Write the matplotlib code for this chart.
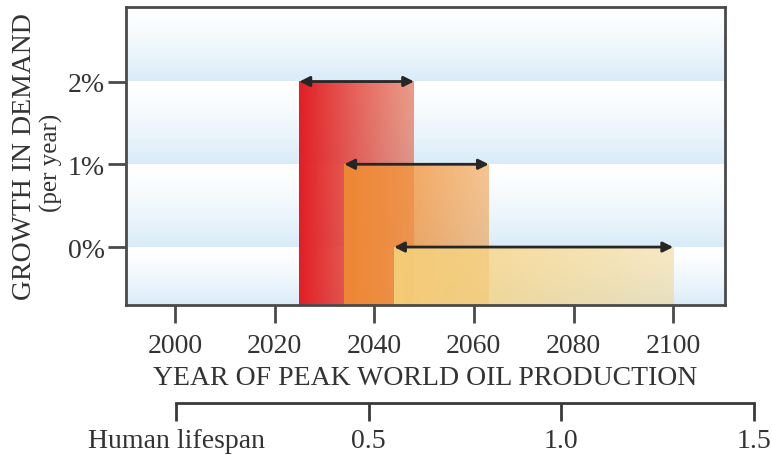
import numpy as np
import matplotlib
matplotlib.use("Agg")
import matplotlib.pyplot as plt

plt.rcParams['font.family'] = ['Liberation Serif', 'DejaVu Serif']

# peak-year ranges for each demand growth scenario
growth = [2, 1, 0]
start_year = [2025, 2034, 2044]
end_year = [2048, 2063, 2100]
# left / right colours of each bar gradient (rgb, alpha)
left_colors = [(0.886, 0.118, 0.141, 1.0), (0.937, 0.541, 0.204, 0.97), (0.965, 0.816, 0.478, 0.92)]
right_colors = [(0.88, 0.43, 0.33, 0.68), (0.94, 0.63, 0.31, 0.62), (0.94, 0.84, 0.58, 0.55)]

year_ticks = [2000, 2020, 2040, 2060, 2080, 2100]
growth_ticks = [0, 1, 2]
growth_labels = ['0%', '1%', '2%']

lifespan_ticks = [0, 0.5, 1.0, 1.5]
lifespan_labels = ['Human lifespan', '0.5', '1.0', '1.5']

W, H = 772, 456
fig = plt.figure(figsize=(W / 100, H / 100), dpi=100)
ax = fig.add_axes([126 / W, 1 - 306 / H, (725 - 126) / W, (306 - 8) / H])

xlim = (1990.2, 2110.4)
ylim = (-0.7, 2.9)

# background bands: white on top fading to pale blue at the bottom
edges = [ylim[0]] + growth_ticks + [ylim[1]]
for lo, hi in zip(edges[:-1], edges[1:]):
    t = np.linspace(0, 1, 64)[:, None] ** 1.4  # 0 = top row
    top = np.array([1.0, 1.0, 1.0])
    bot = np.array([0.85, 0.925, 0.975])
    rgb = top + (bot - top) * t[..., None]
    rgb = np.repeat(rgb, 2, axis=1)
    ax.imshow(rgb, extent=[xlim[0], xlim[1], lo, hi], aspect='auto',
              interpolation='bilinear', zorder=0)

# gradient bars
for g, x0, x1, cl, cr in zip(growth, start_year, end_year, left_colors, right_colors):
    m = 128
    s = np.linspace(0, 1, m)[:, None]
    img = (np.array(cl) + (np.array(cr) - np.array(cl)) * s)[None, :, :]
    ax.imshow(img, extent=[x0, x1, ylim[0], g], aspect='auto',
              interpolation='bilinear', zorder=1)
    ax.annotate('', xy=(x1, g), xytext=(x0, g),
                arrowprops=dict(arrowstyle='<|-|>', color='#262626', lw=2,
                                mutation_scale=15, shrinkA=0, shrinkB=0),
                zorder=3)

ax.set_xlim(*xlim)
ax.set_ylim(*ylim)

for sp in ax.spines.values():
    sp.set_color('#4a4a4a')
    sp.set_linewidth(2)

ax.set_xticks(year_ticks)
ax.set_xticklabels([str(y) for y in year_ticks])
ax.set_yticks(growth_ticks)
ax.set_yticklabels(growth_labels)
ax.tick_params(axis='both', direction='out', length=13, width=2,
               color='#4a4a4a', labelsize=20, labelcolor='#333333')
ax.tick_params(axis='x', pad=7)
ax.tick_params(axis='y', pad=2)

ax.set_xlabel('YEAR OF PEAK WORLD OIL PRODUCTION', fontsize=20,
              color='#333333', labelpad=5)
fig.text(25 / W, 1 - 157 / H, 'GROWTH IN DEMAND', rotation=90,
         ha='center', va='center', fontsize=20, color='#333333')
fig.text(51 / W, 1 - 163 / H, '(per year)', rotation=90,
         ha='center', va='center', fontsize=18, color='#333333')

# human lifespan scale
ax2 = fig.add_axes([176 / W, 1 - 404 / H, (754 - 176) / W, 0.001])
ax2.set_xlim(0, 1.5)
ax2.patch.set_visible(False)
for k in ['top', 'left', 'right']:
    ax2.spines[k].set_visible(False)
ax2.spines['bottom'].set_color('#3a3a3a')
ax2.spines['bottom'].set_linewidth(2)
ax2.set_yticks([])
ax2.set_xticks(lifespan_ticks)
ax2.set_xticklabels(lifespan_labels)
ax2.tick_params(axis='x', direction='out', length=13, width=2,
                color='#3a3a3a', labelsize=20, labelcolor='#333333', pad=5)

fig.savefig('out.png', dpi=100)
